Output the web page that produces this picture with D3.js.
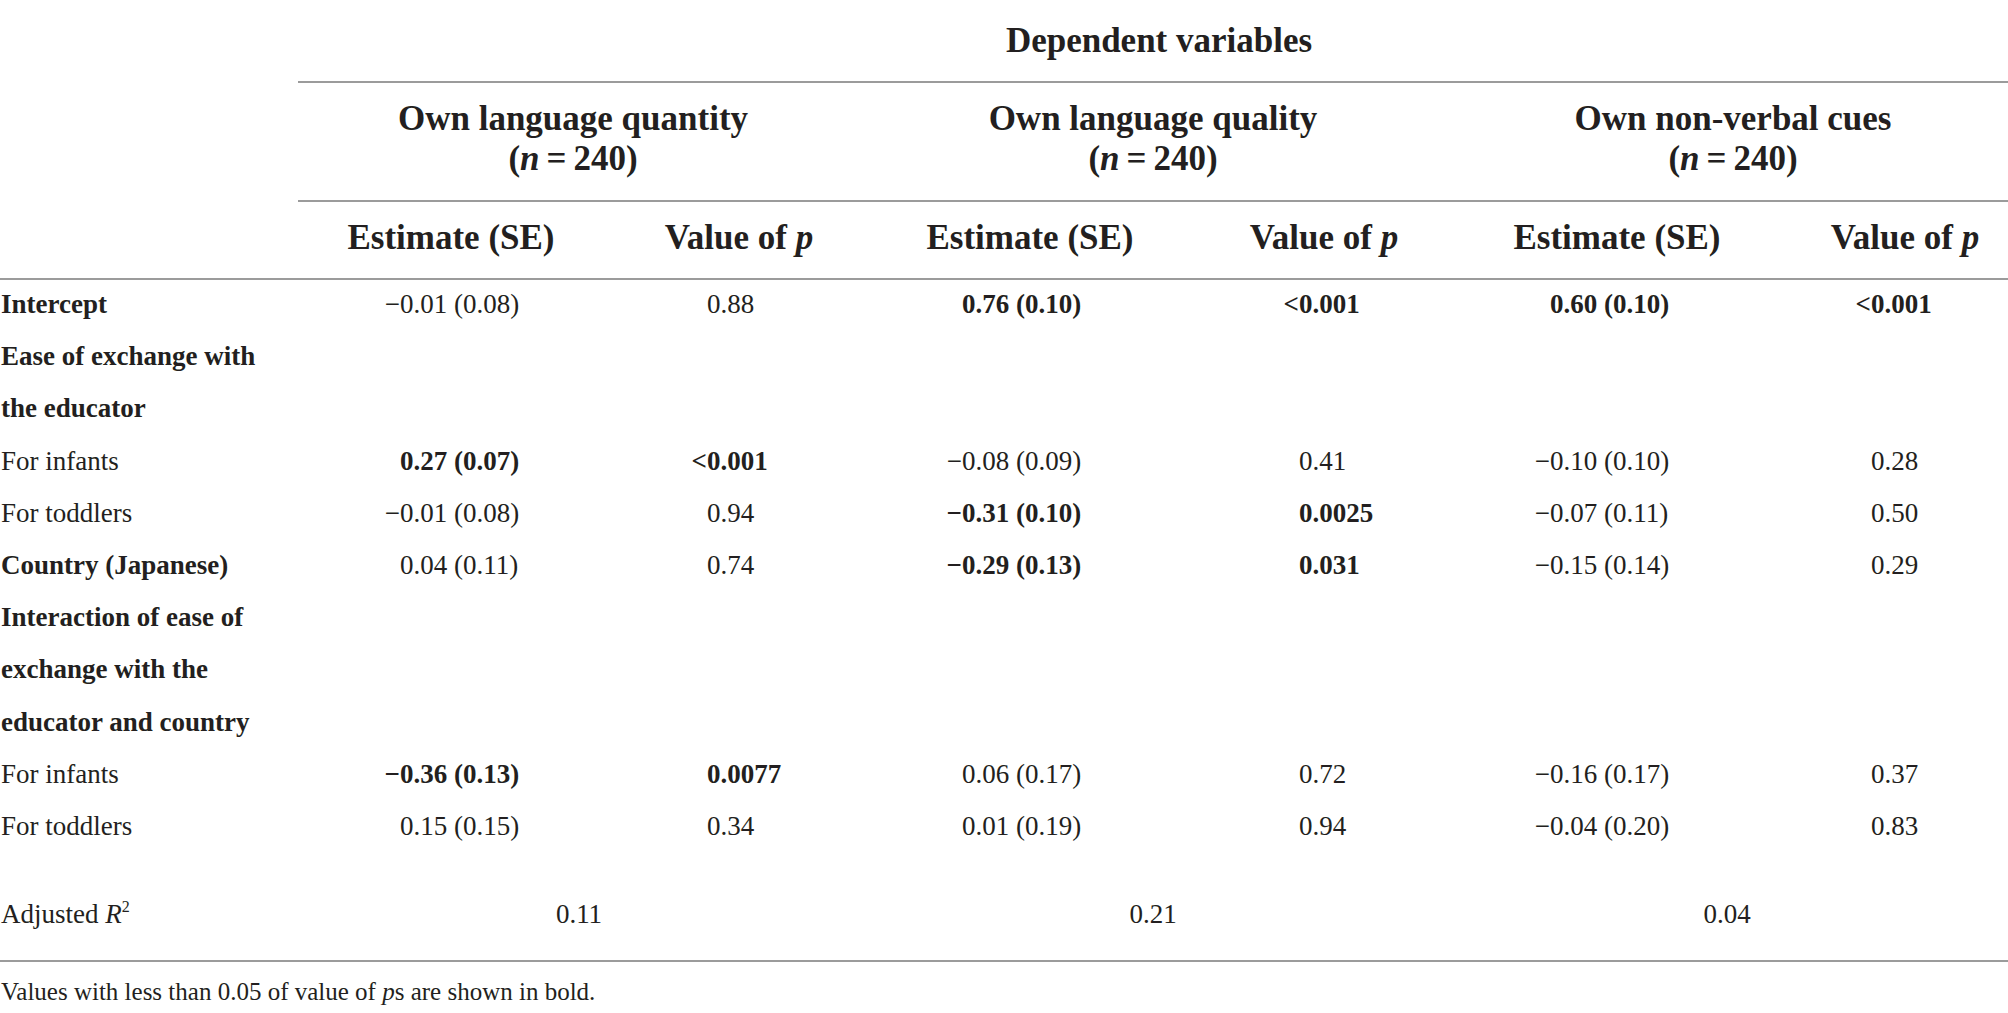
<!DOCTYPE html>
<html>
<head>
<meta charset="utf-8">
<script src="https://cdn.jsdelivr.net/npm/d3@7"></script>
<style>
  body { margin: 0; background: #fff; }
  svg text { font-family: "Liberation Serif", "Times New Roman", serif; fill: #231f20; }
</style>
</head>
<body>
<div id="container"></div>
<script>
const width = 2008, height = 1013;

// Table data
const outcomes = ["Own language quantity", "Own language quality", "Own non-verbal cues"];
const sampleSizes = [240, 240, 240];
const subHeaders = ["Estimate (SE)", "Value of p"];

const rowLabels = ["Intercept", "Ease of exchange with", "the educator", "For infants", "For toddlers",
    "Country (Japanese)", "Interaction of ease of", "exchange with the", "educator and country",
    "For infants", "For toddlers"];
const rowBold = [true, true, true, false, false, true, true, true, true, false, false];

const quantityEst = [-0.01, null, null, 0.27, -0.01, 0.04, null, null, null, -0.36, 0.15];
const quantitySE  = [0.08, null, null, 0.07, 0.08, 0.11, null, null, null, 0.13, 0.15];
const quantityP   = ["0.88", null, null, "<0.001", "0.94", "0.74", null, null, null, "0.0077", "0.34"];

const qualityEst = [0.76, null, null, -0.08, -0.31, -0.29, null, null, null, 0.06, 0.01];
const qualitySE  = [0.10, null, null, 0.09, 0.10, 0.13, null, null, null, 0.17, 0.19];
const qualityP   = ["<0.001", null, null, "0.41", "0.0025", "0.031", null, null, null, "0.72", "0.94"];

const nonverbalEst = [0.60, null, null, -0.10, -0.07, -0.15, null, null, null, -0.16, -0.04];
const nonverbalSE  = [0.10, null, null, 0.10, 0.11, 0.14, null, null, null, 0.17, 0.20];
const nonverbalP   = ["<0.001", null, null, "0.28", "0.50", "0.29", null, null, null, "0.37", "0.83"];

const adjustedR2 = ["0.11", "0.21", "0.04"];

const footnote = "Values with less than 0.05 of value of ";

const series = [
    { est: quantityEst, se: quantitySE, p: quantityP },
    { est: qualityEst, se: qualitySE, p: qualityP },
    { est: nonverbalEst, se: nonverbalSE, p: nonverbalP }
];

const svg = d3.select("#container").append("svg")
    .attr("width", width)
    .attr("height", height);

// scales: group centre, sub-column header centre, decimal anchor of values
const groupX = d3.scalePoint().domain(outcomes).range([573, 1733]);
const estHeadX = d3.scaleOrdinal().domain(outcomes).range([451, 1030, 1617]);
const pHeadX = d3.scaleOrdinal().domain(outcomes).range([739, 1324, 1905]);
const estX = d3.scaleOrdinal().domain(outcomes).range([400, 962, 1550]);
const pX = d3.scaleOrdinal().domain(outcomes).range([707, 1299, 1871]);
const rowY = d3.scaleLinear().domain([0, rowLabels.length - 1]).range([313, 835]);

const fmt = d3.format(".2f");
const minus = s => s.replace("-", "\u2212");
const pNum = s => +s.replace("<", "");

// rules
const rules = [
    { x1: 298, x2: width, y: 82 },
    { x1: 298, x2: width, y: 201 },
    { x1: 0, x2: width, y: 279 },
    { x1: 0, x2: width, y: 961 }
];
svg.selectAll("line.rule").data(rules).join("line")
    .attr("class", "rule")
    .attr("x1", d => d.x1).attr("x2", d => d.x2)
    .attr("y1", d => d.y).attr("y2", d => d.y)
    .attr("stroke", "#9b9b9b")
    .attr("stroke-width", 2);

// header
svg.append("text")
    .attr("x", 1159).attr("y", 52)
    .attr("text-anchor", "middle")
    .style("font-size", "35px").style("font-weight", "bold")
    .text("Dependent variables");

outcomes.forEach((o, i) => {
    svg.append("text")
        .attr("x", groupX(o)).attr("y", 130)
        .attr("text-anchor", "middle")
        .style("font-size", "35px").style("font-weight", "bold")
        .text(o);

    const n = svg.append("text")
        .attr("x", groupX(o)).attr("y", 170)
        .attr("text-anchor", "middle")
        .style("font-size", "35px").style("font-weight", "bold");
    n.append("tspan").text("(");
    n.append("tspan").style("font-style", "italic").text("n");
    n.append("tspan").text("\u2009=\u2009" + sampleSizes[i] + ")");

    svg.append("text")
        .attr("x", estHeadX(o)).attr("y", 249)
        .attr("text-anchor", "middle")
        .style("font-size", "35px").style("font-weight", "bold")
        .text(subHeaders[0]);

    const ph = svg.append("text")
        .attr("x", pHeadX(o)).attr("y", 249)
        .attr("text-anchor", "middle")
        .style("font-size", "35px").style("font-weight", "bold");
    ph.append("tspan").text("Value of ");
    ph.append("tspan").style("font-style", "italic").text("p");
});

// row labels
svg.selectAll("text.rowlabel").data(rowLabels).join("text")
    .attr("class", "rowlabel")
    .attr("x", 1)
    .attr("y", (d, i) => rowY(i))
    .style("font-size", "27px")
    .style("font-weight", (d, i) => rowBold[i] ? "bold" : "normal")
    .text(d => d);

// decimal-aligned value: prefix (sign or <) ends at x, the rest starts at x
function cell(x, y, str, bold) {
    const m = str.match(/^([^0-9]*)(.*)$/);
    const g = svg.append("g");
    if (m[1]) {
        g.append("text").attr("x", x).attr("y", y)
            .attr("text-anchor", "end")
            .style("font-size", "27px")
            .style("font-weight", bold ? "bold" : "normal")
            .text(m[1]);
    }
    g.append("text").attr("x", x).attr("y", y)
        .style("font-size", "27px")
        .style("font-weight", bold ? "bold" : "normal")
        .text(m[2]);
}

series.forEach((s, j) => {
    const o = outcomes[j];
    s.est.forEach((e, i) => {
        if (e === null) return;
        const bold = pNum(s.p[i]) < 0.05;
        cell(estX(o), rowY(i), minus(fmt(e)) + " (" + fmt(s.se[i]) + ")", bold);
        cell(pX(o), rowY(i), s.p[i], bold);
    });
});

// adjusted R²
const r2y = 923;
const r2 = svg.append("text").attr("x", 1).attr("y", r2y).style("font-size", "27px");
r2.append("tspan").text("Adjusted ");
r2.append("tspan").style("font-style", "italic").text("R");
r2.append("tspan").attr("dy", -11).style("font-size", "16px").text("2");

svg.selectAll("text.r2").data(adjustedR2).join("text")
    .attr("class", "r2")
    .attr("x", (d, i) => [579, 1153, 1727][i])
    .attr("y", r2y)
    .attr("text-anchor", "middle")
    .style("font-size", "27px")
    .text(d => d);

// footnote
const fn = svg.append("text").attr("x", 1).attr("y", 1000).style("font-size", "25px");
fn.append("tspan").text(footnote);
fn.append("tspan").style("font-style", "italic").text("p");
fn.append("tspan").text("s are shown in bold.");
</script>
</body>
</html>
